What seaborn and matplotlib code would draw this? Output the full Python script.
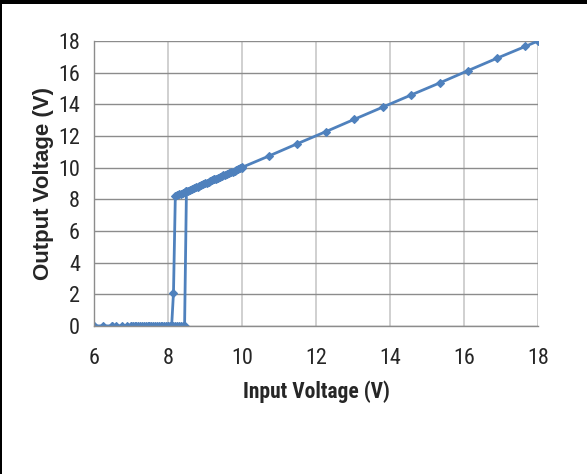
import matplotlib
matplotlib.use("Agg")
import matplotlib.pyplot as plt
from matplotlib.ticker import MultipleLocator
from matplotlib.patches import Rectangle
import seaborn as sns
import pandas as pd

# Rising input sweep: output stays off until the turn-on threshold
rise_in = [6.0, 6.25, 6.5, 6.6, 6.75, 6.9, 7.0, 7.05, 7.1, 7.15, 7.2, 7.25, 7.3, 7.35,
           7.4, 7.45, 7.5, 7.55, 7.6, 7.65, 7.7, 7.75, 7.8, 7.85, 7.9, 7.95, 8.0,
           8.05, 8.1, 8.15, 8.2, 8.25, 8.3, 8.35, 8.4, 8.45, 8.5, 9.25, 10.0]
rise_out = [0.0, 0.0, 0.0, 0.0, 0.0, 0.0, 0.0, 0.0, 0.0, 0.0, 0.0, 0.0, 0.0, 0.0,
            0.0, 0.0, 0.0, 0.0, 0.0, 0.0, 0.0, 0.0, 0.0, 0.0, 0.0, 0.0, 0.0,
            0.0, 0.0, 0.0, 0.0, 0.0, 0.0, 0.0, 0.0, 0.0, 8.5, 9.26, 10.0]

# Falling input sweep: output tracks input down to the turn-off threshold
fall_in = [18.0, 17.66, 16.88, 16.1, 15.35, 14.58, 13.8, 13.03, 12.27, 11.5, 10.74,
           10.0, 9.95, 9.9, 9.85, 9.8, 9.75, 9.7, 9.65, 9.6, 9.55, 9.5, 9.45, 9.4,
           9.35, 9.3, 9.25, 9.2, 9.15, 9.1, 9.05, 9.0, 8.95, 8.9, 8.85, 8.8, 8.75,
           8.7, 8.65, 8.6, 8.55, 8.5, 8.45, 8.4, 8.35, 8.3, 8.25, 8.2, 8.15, 8.1,
           8.0, 7.5, 7.0, 6.5, 6.0]
fall_out = [18.0, 17.66, 16.9, 16.12, 15.36, 14.6, 13.82, 13.05, 12.28, 11.52, 10.75,
            10.02, 9.96, 9.91, 9.86, 9.81, 9.76, 9.71, 9.66, 9.61, 9.56, 9.51, 9.46, 9.41,
            9.36, 9.31, 9.26, 9.21, 9.16, 9.11, 9.06, 9.01, 8.96, 8.91, 8.86, 8.81, 8.76,
            8.71, 8.66, 8.61, 8.56, 8.51, 8.46, 8.41, 8.36, 8.31, 8.27, 8.24, 2.1, 0.0,
            0.0, 0.0, 0.0, 0.0, 0.0]

x_ticks = [6, 8, 10, 12, 14, 16, 18]
y_ticks = [0, 2, 4, 6, 8, 10, 12, 14, 16, 18]

sweeps = pd.concat([
    pd.DataFrame({"vin": rise_in, "vout": rise_out, "sweep": "rising"}),
    pd.DataFrame({"vin": fall_in, "vout": fall_out, "sweep": "falling"}),
])

sns.set_style("white")
narrow = ["Liberation Sans Narrow", "Roboto Condensed", "Open Sans Condensed",
          "DejaVu Sans"]
plt.rcParams["font.family"] = narrow
plt.rcParams["font.stretch"] = "condensed"

line_color = "#4f81bd"
fig = plt.figure(figsize=(5.87, 4.74), dpi=100)
ax = fig.add_axes([0.160, 0.312, 0.7565, 0.6015])

sns.lineplot(data=sweeps, x="vin", y="vout", units="sweep", estimator=None,
             sort=False, color=line_color, lw=2.0, marker="D", markersize=4.0,
             markeredgewidth=0.8, markeredgecolor=line_color, ax=ax, legend=False)

ax.set_xlim(6, 18)
ax.set_ylim(0, 18)
ax.set_xticks(x_ticks)
ax.set_yticks(y_ticks)
ax.xaxis.set_minor_locator(MultipleLocator(0.4))
ax.yaxis.set_minor_locator(MultipleLocator(0.4))

ax.grid(True, which="major", axis="y", color="#8c8c8c", lw=1.0)
ax.grid(True, which="major", axis="x", color="#c8c8c8", lw=1.2)
ax.set_axisbelow(True)
for side in ["top", "right"]:
    ax.spines[side].set_visible(False)
for side in ["left", "bottom"]:
    ax.spines[side].set_color("#8c8c8c")
    ax.spines[side].set_linewidth(1.0)

ax.tick_params(which="major", direction="out", length=5, width=1.0, color="#8c8c8c",
               labelsize=16, pad=5)
ax.tick_params(which="minor", direction="in", length=4, width=0.8, color="#8c8c8c")
ax.tick_params(axis="x", which="major", pad=11)

ax.set_xlabel("Input Voltage (V)", fontsize=15.5, fontweight="bold", labelpad=8)
ax.set_ylabel("Output Voltage (V)", fontsize=16, fontweight="bold",
              family=["Liberation Sans", "DejaVu Sans"], stretch="normal", labelpad=3)

# frame lines along the top and left edges of the figure
fig.add_artist(Rectangle((0, 1 - 4 / 474), 1, 4 / 474, transform=fig.transFigure,
                         color="black", lw=0))
fig.add_artist(Rectangle((0, 0), 2 / 587, 1, transform=fig.transFigure,
                         color="black", lw=0))

fig.savefig("out.png", dpi=100)
